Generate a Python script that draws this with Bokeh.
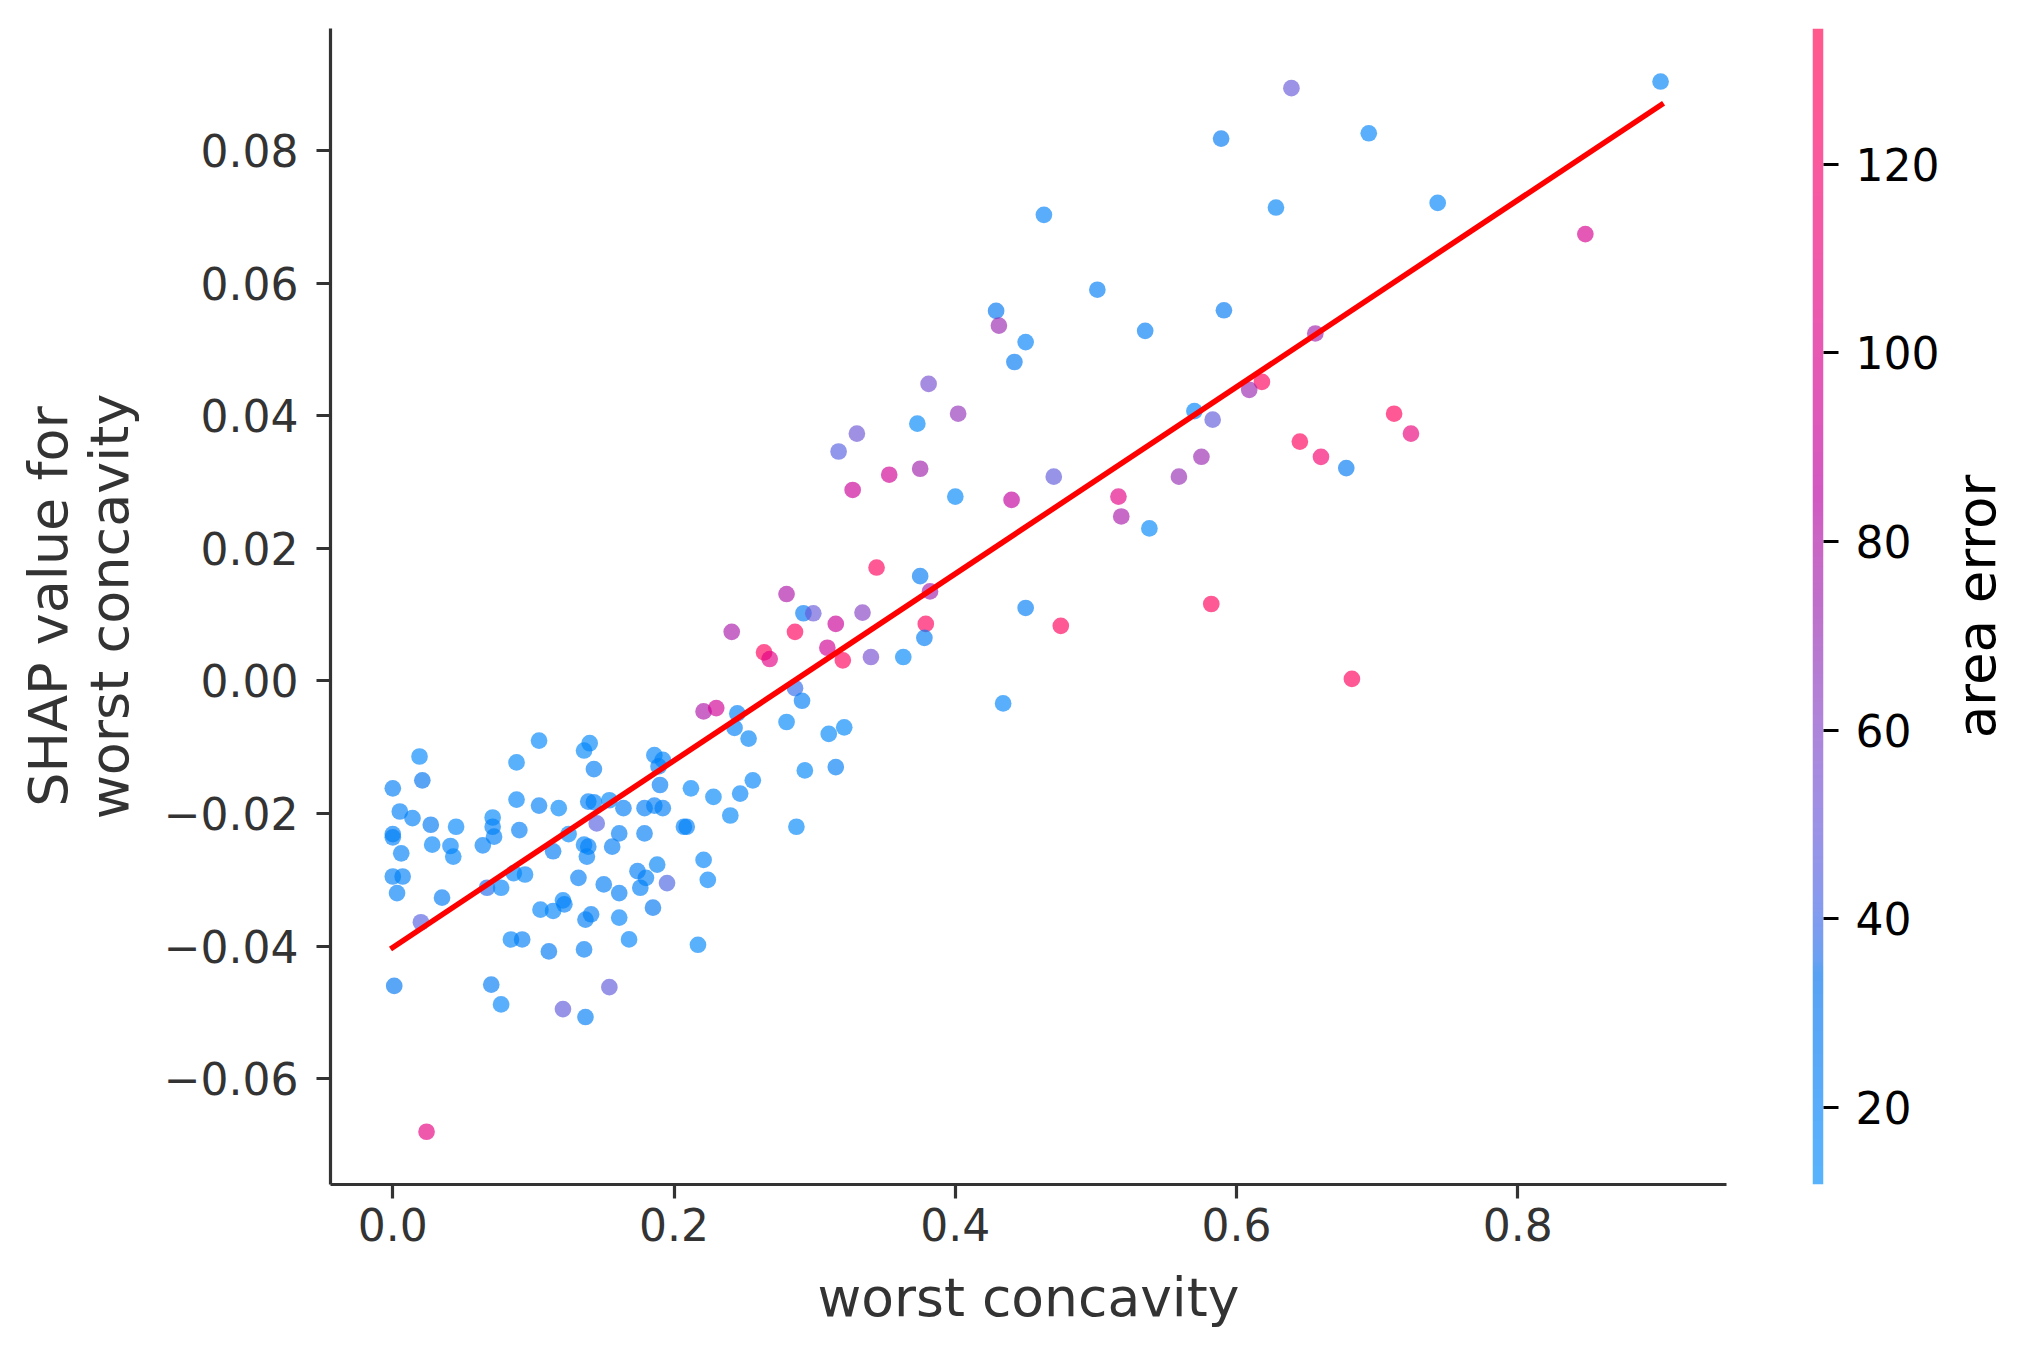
import numpy as np
from bokeh.plotting import figure
from bokeh.models import (Range1d, FixedTicker, LinearColorMapper,
                          CustomJSTickFormatter, ColumnDataSource)
from bokeh.layouts import row
from bokeh.embed import file_html
from bokeh.resources import INLINE

# ---------------- data ----------------
worst_concavity = [
    0.019, 0.021, 0.000, 0.005, 0.014, 0.027, 0.045, 0.000, 0.000, 0.006,
    0.028, 0.041, 0.043, 0.000, 0.007, 0.003, 0.035, 0.020, 0.001, 0.024,
    0.071, 0.071, 0.072, 0.064, 0.088, 0.104, 0.088, 0.090, 0.104, 0.118,
    0.125, 0.114, 0.086, 0.094, 0.067, 0.077, 0.105, 0.114, 0.121, 0.122,
    0.084, 0.092, 0.111, 0.070, 0.077, 0.121, 0.137, 0.136, 0.154, 0.168,
    0.161, 0.137, 0.141, 0.132, 0.150, 0.161, 0.136, 0.139, 0.138, 0.156,
    0.161, 0.145, 0.139, 0.143, 0.154, 0.164, 0.136, 0.140, 0.143, 0.179,
    0.174, 0.180, 0.176, 0.188, 0.195, 0.185, 0.217, 0.221, 0.224, 0.179,
    0.186, 0.192, 0.190, 0.186, 0.192, 0.189, 0.212, 0.228, 0.207, 0.209,
    0.240, 0.247, 0.256, 0.253, 0.243, 0.280, 0.310, 0.321, 0.293, 0.315,
    0.287, 0.245, 0.221, 0.230, 0.286, 0.291, 0.434, 0.264, 0.268, 0.309,
    0.320, 0.340, 0.363, 0.682, 0.241, 0.280, 0.292, 0.299, 0.334, 0.315,
    0.286, 0.379, 0.378, 0.344, 0.375, 0.382, 0.450, 0.475, 0.582, 0.538,
    0.518, 0.516, 0.470, 0.440, 0.400, 0.375, 0.353, 0.327, 0.317, 0.330,
    0.373, 0.402, 0.381, 0.429, 0.431, 0.450, 0.442, 0.463, 0.501, 0.535,
    0.591, 0.589, 0.639, 0.628, 0.656, 0.618, 0.609, 0.570, 0.583, 0.645,
    0.660, 0.678, 0.575, 0.559, 0.694, 0.743, 0.848, 0.9015, 0.712, 0.724,
]
shap_value = [
    -0.0114, -0.0150, -0.0162, -0.0197, -0.0207, -0.0217, -0.0220, -0.0231, -0.0236, -0.0260,
    -0.0247, -0.0249, -0.0265, -0.0295, -0.0295, -0.0320, -0.0327, -0.0364, -0.0460, -0.0680,
    -0.0206, -0.0220, -0.0235, -0.0248, -0.0123, -0.0090, -0.0179, -0.0225, -0.0188, -0.0192,
    -0.0231, -0.0257, -0.0290, -0.0292, -0.0312, -0.0312, -0.0345, -0.0347, -0.0331, -0.0337,
    -0.0390, -0.0390, -0.0408, -0.0458, -0.0488, -0.0495, -0.0507, -0.0405, -0.0462, -0.0390,
    -0.0357, -0.0360, -0.0352, -0.0297, -0.0307, -0.0320, -0.0247, -0.0250, -0.0265, -0.0250,
    -0.0230, -0.0215, -0.0182, -0.0183, -0.0180, -0.0192, -0.0105, -0.0094, -0.0133, -0.0230,
    -0.0287, -0.0297, -0.0312, -0.0277, -0.0305, -0.0342, -0.0398, -0.0270, -0.0300, -0.0192,
    -0.0188, -0.0192, -0.0157, -0.0112, -0.0119, -0.0129, -0.0162, -0.0175, -0.0220, -0.0220,
    -0.0203, -0.0170, -0.0150, -0.0087, -0.0071, -0.0062, -0.0080, -0.0070, -0.0135, -0.0130,
    -0.0220, -0.0049, -0.0046, -0.0041, -0.0011, -0.0030, -0.0034, 0.0043, 0.0033, 0.0050,
    0.0031, 0.0036, 0.0036, 0.0003, 0.0074, 0.0131, 0.0102, 0.0102, 0.0103, 0.0086,
    0.0074, 0.0086, 0.0065, 0.0171, 0.0158, 0.0135, 0.0110, 0.0083, 0.0116, 0.0230,
    0.0248, 0.0278, 0.0308, 0.0273, 0.0278, 0.0320, 0.0311, 0.0288, 0.0346, 0.0373,
    0.0388, 0.0403, 0.0448, 0.0558, 0.0536, 0.0511, 0.0481, 0.0703, 0.0590, 0.0528,
    0.0559, 0.0818, 0.0894, 0.0714, 0.0524, 0.0451, 0.0439, 0.0407, 0.0394, 0.0361,
    0.0338, 0.0321, 0.0338, 0.0308, 0.0826, 0.0721, 0.0674, 0.0904, 0.0403, 0.0373,
]
area_error = [
    16, 32, 24, 22, 22, 28, 16, 22, 22, 22,
    18, 18, 18, 22, 22, 22, 25, 45, 30, 108,
    17, 20, 22, 22, 17, 16, 18, 23, 22, 17,
    17, 25, 18, 18, 36, 18, 18, 18, 18, 22,
    18, 24, 28, 25, 18, 48, 24, 24, 48, 18,
    18, 23, 23, 24, 24, 23, 18, 22, 20, 24,
    23, 45, 22, 22, 17, 24, 17, 17, 24, 24,
    24, 22, 22, 19, 42, 30, 17, 18, 18, 23,
    23, 23, 24, 18, 18, 22, 16, 17, 20, 20,
    17, 18, 18, 19, 22, 17, 17, 17, 17, 23,
    17, 22, 80, 95, 38, 23, 18, 128, 105, 95,
    128, 55, 17, 128, 78, 80, 25, 50, 62, 92,
    128, 128, 24, 128, 25, 75, 23, 128, 128, 17,
    78, 105, 48, 88, 17, 75, 95, 92, 45, 52,
    17, 68, 55, 30, 72, 20, 26, 20, 24, 24,
    26, 26, 50, 19, 75, 128, 72, 18, 48, 128,
    118, 26, 72, 70, 18, 18, 98, 19, 128, 110,
]
fit_x = [0.0, 0.902]
fit_y = [-0.0402, 0.0869]

x_ticks = [0.0, 0.2, 0.4, 0.6, 0.8]
x_tick_labels = ["0.0", "0.2", "0.4", "0.6", "0.8"]
y_ticks = [-0.06, -0.04, -0.02, 0.0, 0.02, 0.04, 0.06, 0.08]
y_tick_labels = ["\u22120.06", "\u22120.04", "\u22120.02", "0.00", "0.02", "0.04", "0.06", "0.08"]
cbar_ticks = [20, 40, 60, 80, 100, 120]
cbar_low, cbar_high = 11.8, 134.4

x_label = "worst concavity"
y_label = "SHAP value for\nworst concavity"
cbar_label = "area error"

# ---------------- colour map (shap red_blue, LCH interpolation) ----------------
def lch_to_hex(L, C, H):
    a = C * np.cos(H)
    b = C * np.sin(H)
    fy = (L + 16.0) / 116.0
    fx = fy + a / 500.0
    fz = fy - b / 200.0

    def finv(t):
        return t ** 3 if t > 0.2068966 else (t - 16.0 / 116.0) / 7.787

    X, Y, Z = 0.95047 * finv(fx), 1.0 * finv(fy), 1.08883 * finv(fz)
    r = 3.2404542 * X - 1.5371385 * Y - 0.4985314 * Z
    g = -0.9692660 * X + 1.8760108 * Y + 0.0415560 * Z
    bl = 0.0556434 * X - 0.2040259 * Y + 1.0572252 * Z
    out = []
    for c in (r, g, bl):
        c = 1.055 * c ** (1 / 2.4) - 0.055 if c > 0.0031308 else 12.92 * c
        out.append(int(round(min(max(c, 0.0), 1.0) * 255)))
    return "#%02x%02x%02x" % tuple(out)


def shap_red_blue(n=256):
    h0, h1 = 4.6588, 0.35470565 + 2 * np.pi
    pal = []
    for t in np.linspace(0, 1, n):
        L = 54 - 28 * t if t < 0.5 else 40 + 28 * (t - 0.5)
        C = 70 + 20 * t
        H = h0 + (h1 - h0) * t
        pal.append(lch_to_hex(L, C, H))
    return pal


PALETTE = shap_red_blue()
ALPHA = 0.65
FONT = "DejaVu Sans"
AXIS_COLOR = "#333333"

mapper = LinearColorMapper(palette=PALETTE, low=cbar_low, high=cbar_high)

# ---------------- layout constants (pixels) ----------------
W_TOTAL, H = 2040, 1357
MAIN_W = 1760
FRAME_L, FRAME_R, FRAME_T, FRAME_B = 330, 1726, 28, 1184
X0_PX, X_PER = 392.3, 1406.3      # pixel of x=0, pixels per unit
Y0_PX, Y_PER = 680.4, 6630.0      # pixel of y=0, pixels per unit


def px_to_x(px):
    return (px - X0_PX) / X_PER


def px_to_y(py):
    return (Y0_PX - py) / Y_PER


LOOKUP_JS = """
for (let i = 0; i < tvals.length; i++) { if (Math.abs(tick - tvals[i]) < 1e-9) return tlabels[i]; }
return "";"""


def blank_fig(width, x_range, y_range, left, right, **kw):
    f = figure(width=width, height=H, title=None, x_range=x_range, y_range=y_range,
               output_backend="svg", toolbar_location=None,
               min_border_left=left, min_border_right=right,
               min_border_top=FRAME_T, min_border_bottom=H - FRAME_B, **kw)
    f.xgrid.visible = False
    f.ygrid.visible = False
    f.outline_line_color = None
    f.background_fill_color = "white"
    f.border_fill_color = "white"
    return f


# ---------------- main scatter figure ----------------
p = blank_fig(MAIN_W, Range1d(px_to_x(FRAME_L), px_to_x(FRAME_R)),
              Range1d(px_to_y(FRAME_B), px_to_y(FRAME_T)), FRAME_L, MAIN_W - FRAME_R)

for ax in (p.xaxis[0], p.yaxis[0]):
    ax.axis_line_color = AXIS_COLOR
    ax.axis_line_width = 3.2
    ax.major_tick_line_color = AXIS_COLOR
    ax.major_tick_line_width = 3.2
    ax.major_tick_out = 14
    ax.major_tick_in = 0
    ax.minor_tick_line_color = None
    ax.major_label_text_font = FONT
    ax.major_label_text_font_size = "44px"
    ax.major_label_text_color = AXIS_COLOR
    ax.axis_label_text_font = FONT
    ax.axis_label_text_font_style = "normal"
    ax.axis_label_text_color = AXIS_COLOR

xa = p.xaxis[0]
xa.ticker = FixedTicker(ticks=x_ticks)
xa.formatter = CustomJSTickFormatter(args=dict(tvals=x_ticks, tlabels=x_tick_labels), code=LOOKUP_JS)
xa.major_label_standoff = 9
xa.axis_label = x_label
xa.axis_label_text_font_size = "53.5px"
xa.axis_label_standoff = 22

ya = p.yaxis[0]
ya.ticker = FixedTicker(ticks=y_ticks)
ya.formatter = CustomJSTickFormatter(args=dict(tvals=y_ticks, tlabels=y_tick_labels), code=LOOKUP_JS)
ya.major_label_standoff = 18
ya.axis_label = y_label
ya.axis_label_text_font_size = "54px"
ya.axis_label_text_line_height = 0.97
ya.axis_label_standoff = 20

src = ColumnDataSource(dict(x=worst_concavity, y=shap_value, area=area_error))
p.scatter("x", "y", source=src, size=16.7, line_color=None,
          fill_color={"field": "area", "transform": mapper}, fill_alpha=ALPHA)
p.line(fit_x, fit_y, line_color="#ff0000", line_width=5.5, line_cap="square")

# ---------------- colour bar figure ----------------
CB_END = 1942
CB_L, CB_R = 1812, 1825
cb = blank_fig(CB_END - MAIN_W, Range1d(0, 1), Range1d(cbar_low, cbar_high),
               CB_L - MAIN_W, CB_END - CB_R,
               x_axis_location=None, y_axis_location="right")

grad = np.linspace(cbar_low, cbar_high, 600).reshape(-1, 1)
cb.image(image=[grad], x=0, y=cbar_low, dw=1, dh=cbar_high - cbar_low,
         color_mapper=mapper, global_alpha=ALPHA)

cax = cb.yaxis[0]
cax.ticker = FixedTicker(ticks=cbar_ticks)
cax.axis_line_color = None
cax.major_tick_line_color = "black"
cax.major_tick_line_width = 3.2
cax.major_tick_out = 15
cax.major_tick_in = 0
cax.minor_tick_line_color = None
cax.major_label_text_font = FONT
cax.major_label_text_font_size = "44px"
cax.major_label_text_color = "black"
cax.major_label_standoff = 17

# ---------------- colour bar title (a left axis label, reads bottom-to-top) ----------------
LBL_FRAME_L = 2006
lf = blank_fig(W_TOTAL - CB_END, Range1d(0, 1), Range1d(cbar_low, cbar_high),
               LBL_FRAME_L - CB_END, W_TOTAL - LBL_FRAME_L - 5,
               x_axis_location=None, y_axis_location="left")
lax = lf.yaxis[0]
lax.ticker = FixedTicker(ticks=[])
lax.axis_line_color = None
lax.major_tick_line_color = None
lax.minor_tick_line_color = None
lax.major_tick_out = 0
lax.major_tick_in = 0
lax.major_label_standoff = 0
lax.axis_label = cbar_label
lax.axis_label_text_font = FONT
lax.axis_label_text_font_style = "normal"
lax.axis_label_text_font_size = "53px"
lax.axis_label_text_color = "black"
lax.axis_label_standoff = 0

layout = row(p, cb, lf)
open("out.html", "w").write(file_html(layout, INLINE))
